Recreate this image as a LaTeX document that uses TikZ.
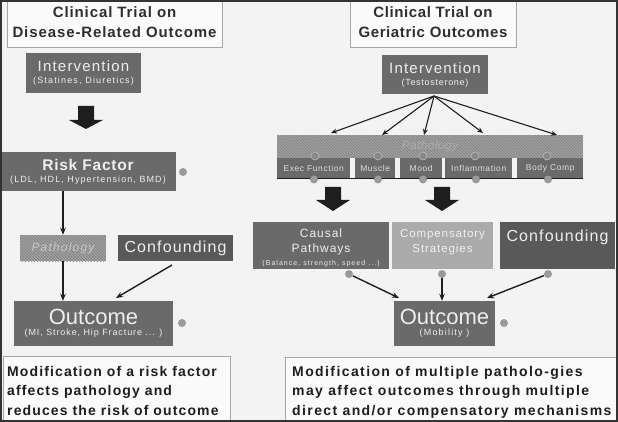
\documentclass[tikz,border=0pt]{standalone}
\usepackage{fontspec}
\setmainfont{Liberation Sans}
\usetikzlibrary{patterns,arrows.meta}
\definecolor{bg}{HTML}{F3F3F3}
\definecolor{boxg}{HTML}{6A6A6A}
\definecolor{boxd}{HTML}{595959}
\definecolor{boxl}{HTML}{ABABAB}
\definecolor{txtl}{HTML}{EEEEEE}
\definecolor{txtc}{HTML}{DDDDDD}
\definecolor{hatchbg}{HTML}{A0A0A0}
\definecolor{hatchln}{HTML}{7E7E7E}
\definecolor{dotc}{HTML}{9A9A9A}
\definecolor{framec}{HTML}{333333}
\definecolor{titletxt}{HTML}{2E2E2E}
\definecolor{blk}{HTML}{1E1E1E}
\newcommand\fs[3]{\fontsize{#1}{#2}\selectfont\addfontfeature{LetterSpace=#3}}
\tikzset{
  box/.style={rectangle, fill=boxg, text=txtl, inner sep=0pt, align=center},
  lbl/.style={inner sep=0pt, align=center, text=txtl},
  titlebox/.style={rectangle, fill=white!60!bg, draw=gray!70, line width=0.8pt, inner sep=0pt, align=center, text=titletxt, font=\bfseries\fs{15}{20}{6}},
  textbox/.style={rectangle, fill=white!60!bg, draw=gray!70, line width=0.8pt, inner sep=0pt},
  hatchbox/.style={rectangle, fill=hatchbg, postaction={pattern=north west lines, pattern color=hatchln}, inner sep=0pt},
  pbox/.style={rectangle, fill=boxg, text=txtc, inner sep=0pt, minimum height=21, font=\fs{8.5}{10}{7}},
  dot/.style={circle, fill=dotc, inner sep=0pt, minimum size=8},
  odot/.style={circle, draw=gray!55, line width=0.6pt, inner sep=0pt, minimum size=8},
  arr/.style={-{Stealth[length=7pt,width=5.5pt]}, line width=1.4pt, draw=blk},
  bigtxt/.style={font=\bfseries\fs{14}{19.5}{8}, text=blk, align=left, inner sep=0pt, anchor=north west},
}
\begin{document}
\begin{tikzpicture}[x=1pt,y=-1pt]
\useasboundingbox (0,0) rectangle (618,422);
\fill[bg] (0,0) rectangle (618,422);

% ---------- Left side ----------
\node[titlebox, minimum width=215, minimum height=50] (titleL) at (114.5,22) {Clinical Trial on\\Disease-Related Outcome};
\node[box, minimum width=115, minimum height=40] (intL) at (83.5,73)
  {{\fs{15}{16}{8}Intervention}\\[0pt]{\fs{9}{10}{13}(Statines, Diuretics)}};
\fill[blk] (78,106) -- (94,106) -- (94,120) -- (103,120) -- (86,129) -- (69,120) -- (78,120) -- cycle;
\node[box, minimum width=176, minimum height=39] (riskL) at (88,171.5)
  {{\bfseries\fs{15.5}{17}{5}Risk Factor}\\[0pt]{\fs{9}{10}{12}(LDL, HDL, Hypertension, BMD)}};
\node[dot] (riskdot) at (183,172) {};
\node[hatchbox, minimum width=86, minimum height=26] (pathL) at (63,248) {};
\node[inner sep=0pt, text=white!55!gray, font=\itshape\fs{12}{14}{10}] (pathLt) at (pathL.center) {Pathology};
\node[box, fill=boxd, minimum width=115, minimum height=26, font=\fs{16}{18}{7}] (confL) at (175.5,248) {Confounding};
\node[box, minimum width=159, minimum height=45] (outL) at (93.5,323.5)
  {{\fs{22}{23}{0}Outcome}\\[-1pt]{\fs{9}{10}{10}(MI, Stroke, Hip Fracture ... )}};
\node[dot] (outLdot) at (182,323) {};
\coordinate (rsrc) at (63,191);
\draw[arr] (rsrc) -- (rsrc |- pathL.north);
\draw[arr] (rsrc |- pathL.south) -- (rsrc |- outL.north);
\coordinate (cfs) at (172,265);
\coordinate (cfe) at (116,298);
\draw[arr] (cfs) -- (cfe);
\node[textbox, minimum width=227, minimum height=70, anchor=north west] (noteL) at (3,356) {};
\node[bigtxt] (noteLt) at (7,366) {Modification of a risk factor\\affects pathology and\\reduces the risk of outcome};

% ---------- Right side ----------
\node[titlebox, minimum width=166, minimum height=50, font=\bfseries\fs{15}{20}{4}] (titleR) at (433,22) {Clinical Trial on\\Geriatric Outcomes};
\node[box, minimum width=106, minimum height=39] (intR) at (435,74.5)
  {{\fs{15}{16}{8}Intervention}\\[0pt]{\fs{9}{10}{8}(Testosterone)}};
\node[hatchbox, minimum width=306, minimum height=23, anchor=north west] (pathR) at (277,135) {};
\node[text=gray!65, font=\itshape\fs{12}{14}{3}] (pathRt) at (430,146) {Pathology};
\fill[bg] (277,158) rectangle (583,178);
\node[pbox, minimum width=73, anchor=north west] (exec) at (277,157.5) {Exec Function};
\node[pbox, minimum width=40, anchor=north west] (musc) at (355,157.5) {Muscle};
\node[pbox, minimum width=42, anchor=north west] (mood) at (400,157.5) {Mood};
\node[pbox, minimum width=67, anchor=north west] (infl) at (445,157.5) {Inflammation};
\node[pbox, minimum width=66, anchor=north west] (body) at (517,157.5) {Body Comp};
\draw[line width=1.6pt, blk] (277,178.5) -- (583,178.5);
\foreach \n/\x in {o1/315,o2/378,o3/423,o4/475,o5/547}{\node[odot, fill=boxg!80] (\n) at (\x,156) {};}
\foreach \n/\x in {d1/314,d2/378,d3/423,d4/476,d5/548}{\node[dot] (\n) at (\x,179.5) {};}
\coordinate (isrc) at (434,96);
\foreach \n/\x/\y in {t1/331/133,t2/382/135,t3/424/135,t4/483/133,t5/557/135}{
  \coordinate (\n) at (\x,\y);
  \draw[-{Stealth[length=6pt,width=5pt]}, line width=1.1pt, blk] (isrc) -- (\n);
}
\fill[blk] (325,187) -- (341,187) -- (341,200) -- (350,200) -- (333,211) -- (316,200) -- (325,200) -- cycle;
\fill[blk] (434,187) -- (450,187) -- (450,200) -- (459,200) -- (442,211) -- (425,200) -- (434,200) -- cycle;
\node[box, minimum width=136, minimum height=47] (causal) at (321,245.5) {};
\node[lbl, font=\fs{12}{15}{8}] (causalt) at (321,242) {Causal\\Pathways};
\node[lbl, font=\fs{7}{8}{15}] (causals) at (321,263.5) {(Balance, strength, speed ...)};
\node[box, fill=boxl, minimum width=101, minimum height=47] (comp) at (442.5,245.5) {};
\node[lbl, text=white!88!gray, font=\fs{11.5}{14.5}{8}] (compt) at (442.5,242) {Compensatory\\Strategies};
\node[box, fill=boxd, minimum width=115, minimum height=47] (confR) at (557.5,245.5) {};
\node[lbl, font=\fs{16}{18}{7}] (confRt) at (557.5,237) {Confounding};
\node[dot] (cd1) at (349,274) {};
\node[dot] (cd2) at (442,274) {};
\node[dot] (cd3) at (548,274) {};
\node[box, minimum width=101, minimum height=45] (outR) at (444.5,323.5)
  {{\fs{22}{23}{0}Outcome}\\[-1pt]{\fs{9}{10}{13}(Mobility )}};
\node[dot] (outRdot) at (504,323) {};
\coordinate (e1) at (399,298);
\coordinate (e3) at (487,298);
\draw[arr] (cd1) -- (e1);
\draw[arr] (cd2) -- (cd2 |- outR.north);
\draw[arr] (cd3) -- (e3);
\node[textbox, minimum width=336, minimum height=70, anchor=north west] (noteR) at (285,357) {};
\node[bigtxt, font=\bfseries\fs{14}{19.5}{10}] (noteRt) at (292,366) {Modification of multiple patholo-gies\\may affect outcomes through multiple\\direct and/or compensatory mechanisms};

% frame
\draw[framec, line width=2pt] (1,1) rectangle (617,421);
\end{tikzpicture}
\end{document}
